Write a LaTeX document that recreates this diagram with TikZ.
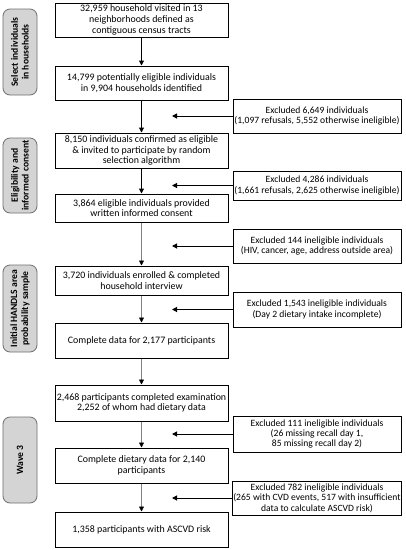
\documentclass[tikz,border=0pt]{standalone}
\usepackage{fontspec}
\setmainfont{Carlito}
\usetikzlibrary{arrows.meta, positioning}
\definecolor{stagefill}{HTML}{D4D4D4}
\definecolor{stageline}{HTML}{6E6E6E}
\tikzset{
  box/.style={rectangle, draw, line width=1pt, minimum width=173pt, inner sep=1pt, align=center, font=\fontsize{9.9}{10.7}\selectfont},
  excl/.style={rectangle, draw, line width=1pt, minimum width=168pt, inner sep=1pt, align=center, font=\fontsize{9.6}{10.4}\selectfont},
  stage/.style={rectangle, rounded corners=7pt, draw=stageline, line width=0.8pt, fill=stagefill, rotate=90, minimum height=34pt, inner sep=1pt, align=center, font=\bfseries\fontsize{9.6}{10.8}\selectfont},
  arrow/.style={-{Triangle[length=5pt, width=5pt]}, line width=1.1pt},
  thinarrow/.style={-{Triangle[length=5pt, width=5pt, color=black]}, line width=0.8pt, draw=gray},
  sidearrow/.style={-{Triangle[length=5pt, width=5pt]}, line width=1pt}
}

\begin{document}
\begin{tikzpicture}[x=1pt, y=-1pt]
  \useasboundingbox (0,0) rectangle (406,550);

  % Stages
  \node[stage, minimum width=86pt] (sel) at (20,52) {Select individuals\\in households};
  \node[stage, minimum width=75pt] (elig) at (20,175.5) {Eligibility and\\informed consent};
  \node[stage, minimum width=87pt] (init) at (20,308.5) {Initial HANDLS area\\probability sample};
  \node[stage, minimum width=86pt] (wave) at (20,460) {Wave 3};

  % Main boxes
  \node[box, minimum height=34pt] (b1) at (141.5,20) {32,959 household visited in 13\\neighborhoods defined as\\contiguous census tracts};
  \node[box, minimum height=34pt] (b2) at (141.5,83) {14,799 potentially eligible individuals\\in 9,904 households identified};
  \node[box, minimum height=35pt] (b3) at (141.5,150.5) {8,150 individuals confirmed as eligible\\\& invited to participate by random\\selection algorithm};
  \node[box, minimum height=28pt] (b4) at (141.5,208) {3,864 eligible individuals provided\\written informed consent};
  \node[box, minimum height=29pt] (b5) at (141.5,280.5) {3,720 individuals enrolled \& completed\\household interview};
  \node[box, minimum height=35pt] (b6) at (141.5,340.5) {Complete data for 2,177 participants};
  \node[box, minimum height=36pt] (b7) at (141.5,403) {2,468 participants completed examination\\2,252 of whom had dietary data};
  \node[box, minimum height=35pt] (b8) at (141.5,465.5) {Complete dietary data for 2,140\\participants};
  \node[box, minimum height=35pt] (b9) at (141.5,529.5) {1,358 participants with ASCVD risk};

  % Exclusions
  \node[excl, minimum height=34pt] (ex1) at (317,116) {Excluded 6,649 individuals\\(1,097 refusals, 5,552 otherwise ineligible)};
  \node[excl, minimum height=29pt] (ex2) at (317,185.5) {Excluded 4,286 individuals\\(1,661 refusals, 2,625 otherwise ineligible)};
  \node[excl, minimum height=34pt] (ex3) at (317,246) {Excluded 144 ineligible individuals\\(HIV, cancer, age, address outside area)};
  \node[excl, minimum height=35pt] (ex4) at (317,309.5) {Excluded 1,543 ineligible individuals\\(Day 2 dietary intake incomplete)};
  \node[excl, minimum height=36pt] (ex5) at (317,434) {Excluded 111 ineligible individuals\\(26 missing recall day 1,\\85 missing recall day 2)};
  \node[excl, minimum height=34pt] (ex6) at (317,498) {Excluded 782 ineligible individuals\\(265 with CVD events, 517 with insufficient\\data to calculate ASCVD risk)};

  % Connections
  \coordinate (lane) at (172,0);
  \draw[arrow] (b1) -- (b2);
  \draw[arrow] (b2) -- (b3);
  \draw[arrow] (b3) -- (b4);
  \draw[thinarrow] (b4) -- (b5);
  \draw[thinarrow] (b5) -- (b6);
  \draw[thinarrow] (b6) -- (b7);
  \draw[thinarrow] (b7) -- (b8);
  \draw[thinarrow] (b8) -- (b9);
  \foreach \e in {ex1, ex2, ex3, ex4, ex5, ex6}
    \draw[sidearrow] (\e.west) -- (\e.west -| lane);
\end{tikzpicture}
\end{document}
